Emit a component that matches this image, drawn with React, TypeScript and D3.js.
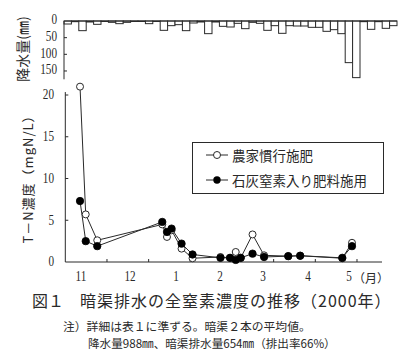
import React from "react";
import * as d3 from "d3";

// ---- data ----
const RAIN_MM = [9, 2, 29, 3, 10, 1, 4, 8, 4, 1, 0, 8, 1, 28, 14, 11, 29, 6, 3, 38, 3, 16, 18, 7, 23, 4, 7, 28, 14, 37, 14, 15, 15, 19, 19, 31, 26, 38, 125, 170, 2, 25, 2, 22, 14];
const RAIN_TICKS = [0, 50, 100, 150];

const SAMPLE_DAYS = [10.6, 14.7, 23, 69.8, 73.2, 76.5, 83.7, 91.6, 111.7, 118.6, 122.7, 126.3, 134.8, 143.1, 160.5, 169.1, 199.4, 206.4];
const CONVENTIONAL = [21.0, 5.7, 2.6, 4.5, 3.0, 3.8, 1.6, 0.45, 0.6, 0.5, 1.2, 0.5, 3.3, 0.8, 0.7, 0.75, 0.45, 2.3];
const LIME_N = [7.3, 2.5, 1.9, 4.8, 3.6, 4.0, 2.2, 0.9, 0.5, 0.5, 0.25, 0.5, 1.0, 0.6, 0.7, 0.75, 0.5, 1.9];

const MONTH_LABELS = ["11", "12", "1", "2", "3", "4", "5"];
const MONTH_LABEL_DAYS = [11.3, 46.6, 79.7, 111.4, 142.4, 174.8, 204.3];
const X_TICK_DAYS = [30, 60, 90, 120, 150, 180, 210];
const Y_TICKS = [0, 5, 10, 15, 20];

const SERIES_NAMES = ["農家慣行施肥", "石灰窒素入り肥料施用"];

const INK = "#2a2a2a";
const NUM_FONT = "'Liberation Serif', 'DejaVu Serif', serif";
const JP_FONT = "'Noto Sans CJK JP', 'Noto Sans', sans-serif";

function Num({ x, y, text, anchor = "end" }: { x: number; y: number; text: string; anchor?: string }) {
  return (
    <text
      transform={`translate(${x},${y}) scale(0.8,1)`}
      textAnchor={anchor}
      dominantBaseline="central"
      fontFamily={NUM_FONT}
      fontSize={14}
      fill={INK}
    >
      {text}
    </text>
  );
}

export default function App() {
  // rain panel
  const rainX = d3.scaleLinear().domain([0, RAIN_MM.length]).range([64, 397]);
  const rainY = d3.scaleLinear().domain([0, 175]).range([21, 79.3]);

  // main panel
  const x = d3.scaleLinear().domain([0, 228]).range([65.3, 382]);
  const y = d3.scaleLinear().domain([0, 20]).range([262, 95]);
  const yTop = y(20.35);

  const line = d3
    .line<number>()
    .x((_, i) => x(SAMPLE_DAYS[i]))
    .y((v) => y(v));

  return (
    <svg
      width={410}
      height={362}
      style={{ position: "absolute", left: 0, top: 0, background: "#fff" }}
    >
      <rect x={0} y={0} width={410} height={362} fill="#fff" />

      {/* ---- rain panel ---- */}
      {RAIN_MM.map((v, i) => (
        <rect
          key={"r" + i}
          x={rainX(i)}
          y={rainY(0)}
          width={rainX(i + 1) - rainX(i)}
          height={Math.max(0.5, rainY(v) - rainY(0))}
          fill="#fff"
          stroke={INK}
          strokeWidth={1}
        />
      ))}
      <line x1={rainX(0)} x2={rainX(RAIN_MM.length)} y1={rainY(0)} y2={rainY(0)} stroke={INK} strokeWidth={1.2} />
      <line x1={rainX(0)} x2={rainX(0)} y1={rainY(0)} y2={rainY(175)} stroke={INK} strokeWidth={1} />
      {RAIN_TICKS.map((t) => (
        <g key={"rt" + t}>
          {t > 0 && <line x1={rainX(0)} x2={rainX(0) + 3} y1={rainY(t)} y2={rainY(t)} stroke={INK} />}
          <Num x={57} y={rainY(t) - 1} text={String(t)} />
        </g>
      ))}
      <text
        transform={`translate(22,${49}) rotate(-90)`}
        textAnchor="middle"
        dominantBaseline="central"
        fontFamily={JP_FONT}
        fontSize={14}
        fill={INK}
      >
        降水量(㎜)
      </text>

      {/* ---- main panel axes ---- */}
      <line x1={x(0)} x2={x(0)} y1={y(0)} y2={yTop} stroke={INK} strokeWidth={1} />
      <line x1={x(0)} x2={x(228)} y1={y(0)} y2={y(0)} stroke={INK} strokeWidth={1} />
      {Y_TICKS.map((t) => (
        <g key={"yt" + t}>
          {t > 0 && <line x1={x(0)} x2={x(0) + 3} y1={y(t)} y2={y(t)} stroke={INK} />}
          <Num x={54} y={y(t)} text={String(t)} />
        </g>
      ))}
      {X_TICK_DAYS.map((d) => (
        <line key={"xt" + d} x1={x(d)} x2={x(d)} y1={y(0)} y2={y(0) - 3} stroke={INK} />
      ))}
      {MONTH_LABELS.map((m, i) => (
        <Num key={"ml" + i} x={x(MONTH_LABEL_DAYS[i])} y={277} text={m} anchor="middle" />
      ))}
      <text x={353} y={277} dominantBaseline="central" fontFamily={JP_FONT} fontSize={12} fill={INK}>
        （月）
      </text>
      <text
        transform={`translate(27,176) rotate(-90)`}
        textAnchor="middle"
        dominantBaseline="central"
        fontFamily={JP_FONT}
        fontSize={13}
        letterSpacing={1}
        fill={INK}
      >
        T－N濃度（mgN/L）
      </text>

      {/* ---- series ---- */}
      <path d={line(CONVENTIONAL) || ""} fill="none" stroke={INK} strokeWidth={1} />
      <path d={line(LIME_N) || ""} fill="none" stroke={INK} strokeWidth={1} />
      {CONVENTIONAL.map((v, i) => (
        <circle key={"c" + i} cx={x(SAMPLE_DAYS[i])} cy={y(v)} r={3.5} fill="#fff" stroke={INK} strokeWidth={1} />
      ))}
      {LIME_N.map((v, i) => (
        <circle key={"l" + i} cx={x(SAMPLE_DAYS[i])} cy={y(v)} r={3.7} fill="#000" stroke="#000" strokeWidth={0.8} />
      ))}

      {/* ---- legend ---- */}
      <rect x={192.5} y={142.5} width={191} height={51} fill="#fff" stroke={INK} strokeWidth={1} />
      <line x1={206} x2={228} y1={155} y2={155} stroke={INK} />
      <circle cx={217} cy={155} r={3.5} fill="#fff" stroke={INK} />
      <text x={232} y={155} dominantBaseline="central" fontFamily={JP_FONT} fontSize={13.5} fill={INK}>
        {SERIES_NAMES[0]}
      </text>
      <line x1={206} x2={228} y1={180} y2={180} stroke={INK} />
      <circle cx={217} cy={180} r={3.7} fill="#000" />
      <text x={232} y={180} dominantBaseline="central" fontFamily={JP_FONT} fontSize={13.5} fill={INK}>
        {SERIES_NAMES[1]}
      </text>

      {/* ---- caption ---- */}
      <text x={32} y={300} dominantBaseline="central" fontFamily={JP_FONT} fontSize={16} fill={INK}>
        図１
      </text>
      <text x={80} y={300} dominantBaseline="central" fontFamily={JP_FONT} fontSize={16} letterSpacing={1} fill={INK}>
        暗渠排水の全窒素濃度の推移（2000年）
      </text>
      <text x={63} y={325} dominantBaseline="central" fontFamily={JP_FONT} fontSize={11.8} fill={INK}>
        注）詳細は表１に準ずる。暗渠２本の平均値。
      </text>
      <text x={88} y={343} dominantBaseline="central" fontFamily={JP_FONT} fontSize={11.6} fill={INK}>
        降水量988㎜、暗渠排水量654㎜（排出率66%）
      </text>
    </svg>
  );
}
